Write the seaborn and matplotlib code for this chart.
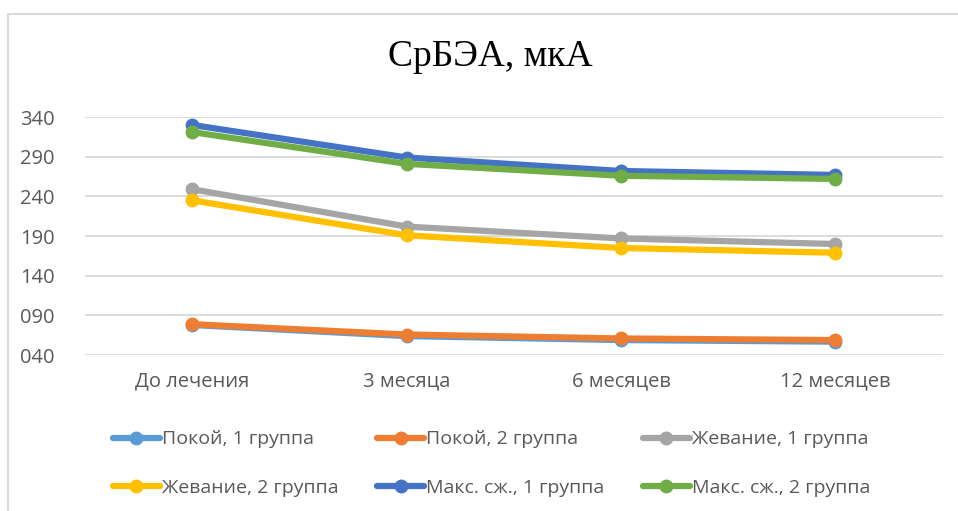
import numpy as np
import pandas as pd
import seaborn as sns
import matplotlib.pyplot as plt
from matplotlib.patches import Rectangle
from matplotlib.ticker import FuncFormatter

periods = ['До лечения', '3 месяца', '6 месяцев', '12 месяцев']
series = ['Покой, 1 группа', 'Покой, 2 группа', 'Жевание, 1 группа',
          'Жевание, 2 группа', 'Макс. сж., 1 группа', 'Макс. сж., 2 группа']
rest_1 = [78, 64, 59, 57]
rest_2 = [79, 66, 61, 59]
chew_1 = [249, 202, 187, 180]
chew_2 = [235, 191, 175, 169]
max_1 = [330, 289, 272, 267]
max_2 = [321, 281, 266, 262]
colors = ['#5B9BD5', '#ED7D31', '#A5A5A5', '#FFC000', '#4472C4', '#70AD47']

rows = []
for name, vals in zip(series, [rest_1, rest_2, chew_1, chew_2, max_1, max_2]):
    for p, v in zip(periods, vals):
        rows.append({'period': p, 'series': name, 'value': v})
df = pd.DataFrame(rows)
df['x'] = df['period'].map({p: i for i, p in enumerate(periods)})

sns.set_style('white')
plt.rcParams['font.family'] = ['Open Sans', 'DejaVu Sans']

fig = plt.figure(figsize=(9.58, 5.11), dpi=100)
ax = fig.add_axes([0.0887, 0.305, 0.8953, 0.466])

sns.lineplot(data=df, x='x', y='value', hue='series', hue_order=series,
             palette=colors, marker='o', markersize=10, markeredgewidth=0,
             linewidth=4.5, ax=ax, legend=True)

ax.set_xlim(-0.5, 3.5)
ax.set_ylim(40, 340)
ax.set_yticks(range(40, 341, 50))
ax.yaxis.set_major_formatter(FuncFormatter(lambda v, _: '%03d' % v))
ax.set_xticks(range(len(periods)))
ax.set_xticklabels(periods)
ax.grid(axis='y', color='#D9D9D9', linewidth=1.3)
ax.set_axisbelow(True)
for s in ax.spines.values():
    s.set_visible(False)
ax.tick_params(axis='both', colors='#595959', labelsize=14.5, length=0)
ax.tick_params(axis='x', pad=12)
ax.tick_params(axis='y', pad=22)
ax.set_xlabel('')
ax.set_ylabel('')

# matplotlib fills legend columns first; reorder so rows read left to right
handles, labels = ax.get_legend_handles_labels()
order = [0, 3, 1, 4, 2, 5]
ax.legend([handles[i] for i in order], [labels[i] for i in order],
          loc='center', bbox_to_anchor=(0.474, -0.455), ncol=3,
          frameon=False, fontsize=14, handlelength=2.4, handletextpad=0.1,
          columnspacing=2.0, labelspacing=1.55, labelcolor='#595959')

fig.text(0.512, 0.888, 'СрБЭА, мкА', ha='center', va='center',
         fontsize=27, family='Liberation Serif', color='black')

fig.patches.append(Rectangle((8 / 958, -0.1), 1.2, 1.1 - 14 / 511,
                             transform=fig.transFigure, fill=False,
                             edgecolor='#D9D9D9', linewidth=1.5))

fig.savefig('out.png', dpi=100)
